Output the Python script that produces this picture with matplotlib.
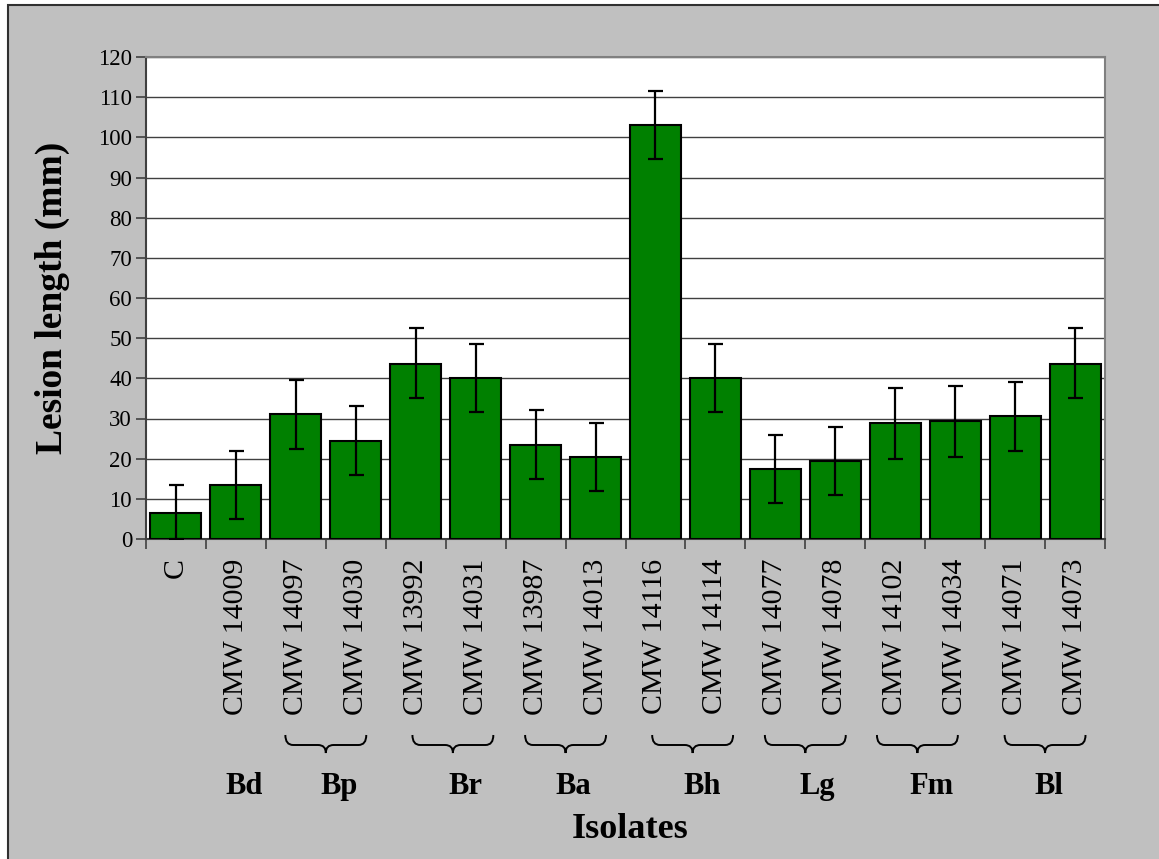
import matplotlib
matplotlib.use("Agg")
import matplotlib.pyplot as plt
from matplotlib.path import Path
from matplotlib.patches import PathPatch, Rectangle
from matplotlib.transforms import blended_transform_factory
import numpy as np

plt.rcParams['font.family'] = ['Liberation Serif', 'DejaVu Serif']

categories = ["C", "CMW 14009", "CMW 14097", "CMW 14030", "CMW 13992", "CMW 14031",
              "CMW 13987", "CMW 14013", "CMW 14116", "CMW 14114", "CMW 14077",
              "CMW 14078", "CMW 14102", "CMW 14034", "CMW 14071", "CMW 14073"]
values = [6.5, 13.5, 31, 24.5, 43.5, 40, 23.5, 20.5, 103, 40, 17.5, 19.5, 29, 29.5, 30.5, 43.5]
err_low = [6.5, 8.5, 8.5, 8.5, 8.5, 8.5, 8.5, 8.5, 8.5, 8.5, 8.5, 8.5, 9, 9, 8.5, 8.5]
err_high = [7, 8.5, 8.5, 8.5, 9, 8.5, 8.5, 8.5, 8.5, 8.5, 8.5, 8.5, 8.5, 8.5, 8.5, 9]
yticks = list(range(0, 121, 10))

# species groups: (label, first bar, last bar or None for no brace)
groups = [("Bd", 1, None), ("Bp", 2, 3), ("Br", 4, 5), ("Ba", 6, 7),
          ("Bh", 8, 9), ("Lg", 10, 11), ("Fm", 12, 13), ("Bl", 14, 15)]
brace_shift = [0, 0, 0.12, 0, 0.12, 0, -0.13, 0]
label_shift = [0.13, 0.23, 0.33, 0.13, 0.28, 0.2, 0.1, 0.07]

W, H = 1159, 859
fig = plt.figure(figsize=(W / 100, H / 100), dpi=100, facecolor='white')
fig.patches.append(Rectangle((8 / W, -0.2), 1.2, 0.2 + (H - 5) / H, transform=fig.transFigure,
                             facecolor='#C0C0C0', edgecolor='#303030', lw=1.5, zorder=-10))

ax = fig.add_axes([146 / W, 1 - 539 / H, (1105 - 146) / W, (539 - 57) / H])
ax.set_facecolor('white')
x = np.arange(len(categories))
ax.bar(x, values, width=0.85, color='#008000', edgecolor='black', linewidth=1.5, zorder=3)
ax.errorbar(x, values, yerr=[err_low, err_high], fmt='none', ecolor='black',
            elinewidth=1.6, capsize=5.4, capthick=1.6, zorder=4)

ax.set_xlim(-0.5, len(categories) - 0.5)
ax.set_ylim(0, 120)
ax.set_yticks(yticks)
ax.set_yticklabels([str(t) for t in yticks], fontsize=16.5)
ax.yaxis.grid(True, color='#404040', lw=1.0, zorder=0)
ax.set_axisbelow(True)
ax.tick_params(axis='y', direction='out', length=7, width=1.2, color='#404040', pad=3)

ax.set_xticks(x)
ax.set_xticklabels(categories, rotation=90, fontsize=21.5, va='top', ha='center')
ax.tick_params(axis='x', which='major', length=0, pad=14)
ax.set_xticks(np.arange(-0.5, len(categories), 1), minor=True)
ax.tick_params(axis='x', which='minor', direction='out', length=7, width=1.2, color='#404040')

for s in ['left', 'bottom']:
    ax.spines[s].set_color('#404040')
    ax.spines[s].set_linewidth(1.5)
for s in ['top', 'right']:
    ax.spines[s].set_color('#808080')
    ax.spines[s].set_linewidth(1.5)

ax.set_ylabel("Lesion length (mm)", fontsize=27, fontweight='bold')
ax.yaxis.set_label_coords((70 - 146) / (1105 - 146), 0.5)
fig.text(630 / W, 1 - 838 / H, "Isolates", fontsize=26, fontweight='bold',
         ha='center', va='baseline')

tr = blended_transform_factory(ax.transData, fig.transFigure)
y_top, y_mid, y_tip = 1 - 735 / H, 1 - 745 / H, 1 - 753 / H
half = 0.675
r = 0.13
for (lab, a, b), bs, ls in zip(groups, brace_shift, label_shift):
    if b is None:
        xm = a
    else:
        xm = (a + b) / 2 + bs
        x0, x1 = xm - half, xm + half
        verts = [(x0, y_top), (x0, y_mid), (x0 + r, y_mid),
                 (xm - r, y_mid), (xm, y_mid), (xm, y_tip),
                 (xm, y_mid), (xm + r, y_mid),
                 (x1 - r, y_mid), (x1, y_mid), (x1, y_top)]
        codes = [Path.MOVETO, Path.CURVE3, Path.CURVE3,
                 Path.LINETO, Path.CURVE3, Path.CURVE3,
                 Path.CURVE3, Path.CURVE3,
                 Path.LINETO, Path.CURVE3, Path.CURVE3]
        fig.patches.append(PathPatch(Path(verts, codes), transform=tr, fill=False,
                                     edgecolor='black', lw=1.4))
        xm = (a + b) / 2
    ax.text(xm + ls, 1 - 794 / H, lab, transform=tr, fontsize=22, fontweight='bold',
            ha='center', va='baseline')

fig.savefig("out.png", dpi=100, facecolor=fig.get_facecolor())
